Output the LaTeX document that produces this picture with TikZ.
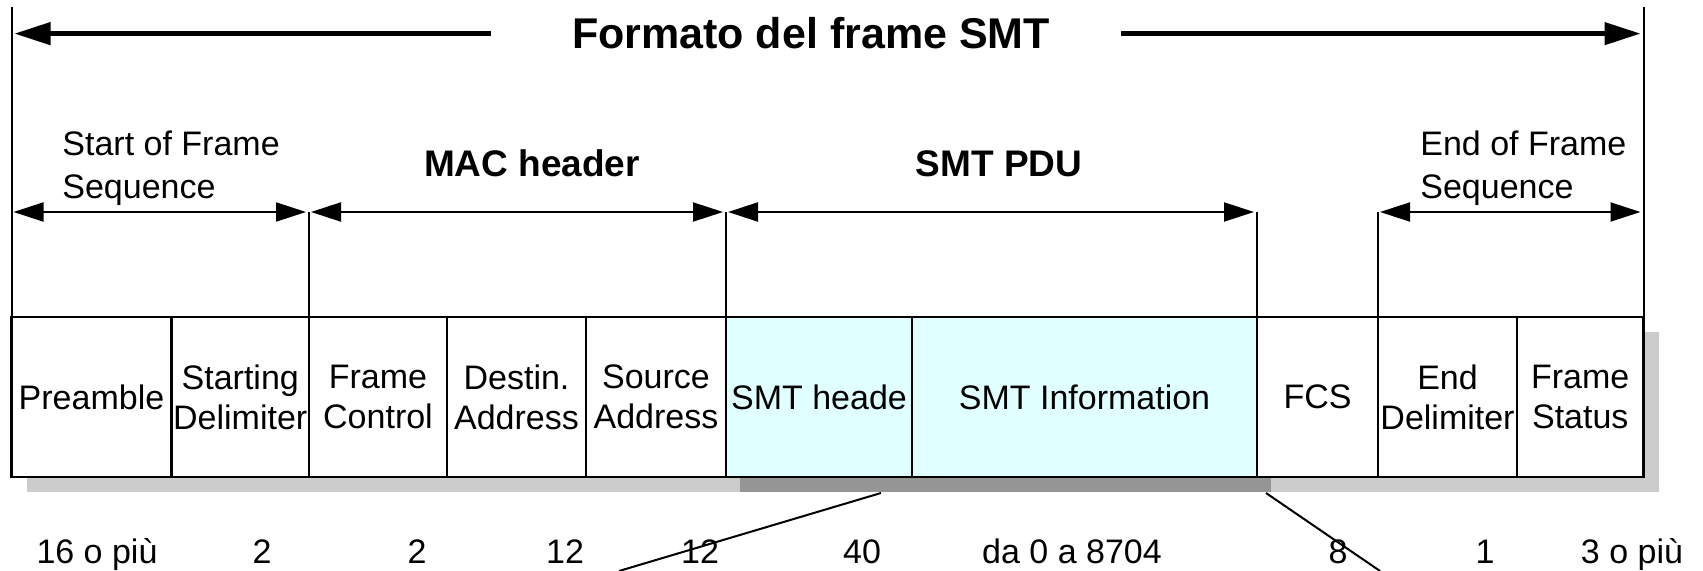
\documentclass[tikz,border=0pt]{standalone}
\usepackage{fontspec}
\setmainfont{Liberation Sans}
\usepackage{tikz}
\usetikzlibrary{arrows.meta}

\definecolor{pducyan}{RGB}{224,255,255}
\definecolor{lightshadow}{RGB}{204,204,204}
\definecolor{darkshadow}{RGB}{149,149,149}

\newcommand{\fieldfont}{\fontsize{17pt}{20pt}\selectfont}
\newcommand{\seqfont}{\fontsize{17pt}{21.5pt}\selectfont}
\newcommand{\partfont}{\fontsize{18.5pt}{22pt}\selectfont\bfseries}
\newcommand{\titlefont}{\fontsize{21.5pt}{26pt}\selectfont\bfseries}

\tikzset{
  field/.style={draw, line width=1.25pt, fill=white, inner sep=0pt, outer sep=0pt,
    minimum height=80pt, font=\fieldfont, align=center, anchor=west},
  pdufield/.style={field, fill=pducyan},
  frameline/.style={line width=1pt},
  dimarrow/.style={line width=1pt,
    {Triangle[length=15pt,width=9.5pt]}-{Triangle[length=15pt,width=9.5pt]},
    shorten <=1pt, shorten >=1.5pt},
  titlearrow/.style={line width=2.25pt, -{Triangle[length=18pt,width=11pt]}, shorten >=1.5pt},
  seqlabel/.style={font=\seqfont, align=left, anchor=west, inner sep=0pt},
  partlabel/.style={font=\partfont, anchor=base, inner sep=0pt},
  titlelabel/.style={font=\titlefont, anchor=base, inner sep=0pt},
  numlabel/.style={font=\fieldfont, anchor=base, inner sep=0pt},
  zoomline/.style={line width=1pt}
}

\begin{document}
\begin{tikzpicture}[x=0.5pt,y=-0.5pt]
        \newcommand{\smtrowmid}{397}
        \newcommand{\smtsepy}{212}
        \newcommand{\smtnumy}{563}
        \useasboundingbox (0,0) rectangle (1703,571);
        % shadows under the frame
        \fill[lightshadow] (26.5,332) rectangle (1658.5,492);
        \fill[darkshadow] (740,332) rectangle (1271,492);
        % fields of the frame
        \node[field, minimum width=80pt] (pre) at (11.5,\smtrowmid) {Preamble};
        \node[field, minimum width=68.75pt] (sd) at (171.5,\smtrowmid) {Starting\\Delimiter};
        \node[field, minimum width=69pt] (fc) at (309,\smtrowmid) {Frame\\Control};
        \node[field, minimum width=69.5pt] (da) at (447,\smtrowmid) {Destin.\\Address};
        \node[field, minimum width=70pt] (sa) at (586,\smtrowmid) {Source\\Address};
        \node[pdufield, minimum width=93pt] (sh) at (726,\smtrowmid) {SMT heade};
        \node[pdufield, minimum width=172.5pt] (si) at (912,\smtrowmid) {SMT Information};
        \node[field, minimum width=60.5pt] (fcs) at (1257,\smtrowmid) {FCS};
        \node[field, minimum width=69.5pt] (ed) at (1378,\smtrowmid) {End\\Delimiter};
        \node[field, minimum width=63.25pt] (fs) at (1517,\smtrowmid) {Frame\\Status};
        % outer edges and separators
        \coordinate (edgeL) at (11.5,7);
        \coordinate (edgeR) at (1643.5,7);
        \coordinate (sepA) at (11.5,\smtsepy);
        \coordinate (sepB) at (309,\smtsepy);
        \coordinate (sepC) at (726,\smtsepy);
        \coordinate (sepD) at (1257,\smtsepy);
        \coordinate (sepE) at (1378,\smtsepy);
        \coordinate (sepF) at (1643.5,\smtsepy);
        \draw[frameline] (edgeL) -- (pre.north west);
        \draw[frameline] (edgeR) -- (fs.north east);
        \draw[frameline] (sepB) -- (fc.north west);
        \draw[frameline] (sepC) -- (sh.north west);
        \draw[frameline] (sepD) -- (fcs.north west);
        \draw[frameline] (sepE) -- (ed.north west);
        % sections
        \draw[dimarrow] (sepA) -- (sepB);
        \draw[dimarrow] (sepB) -- (sepC);
        \draw[dimarrow] (sepC) -- (sepD);
        \draw[dimarrow] (sepE) -- (sepF);
        \node[seqlabel] (sofs) at (62,168) {Start of Frame\\Sequence};
        \node[partlabel] (mach) at (532,177) {MAC header};
        \node[partlabel] (pdu) at (999,177) {SMT PDU};
        \node[seqlabel] (eofs) at (1420,168) {End of Frame\\Sequence};
        % title
        \node[titlelabel] (ttl) at (811,49) {Formato del frame SMT};
        \draw[titlearrow] ([xshift=-40.5pt]ttl.west) -- (edgeL |- ttl.west);
        \draw[titlearrow] ([xshift=35.5pt]ttl.east) -- (edgeR |- ttl.east);
        % lengths
        \node[numlabel] (len1) at (97,\smtnumy) {16 o più};
        \node[numlabel] (len2) at (262,\smtnumy) {2};
        \node[numlabel] (len3) at (417,\smtnumy) {2};
        \node[numlabel] (len4) at (565,\smtnumy) {12};
        \node[numlabel] (len5) at (700,\smtnumy) {12};
        \node[numlabel] (len6) at (862,\smtnumy) {40};
        \node[numlabel] (len7) at (1072,\smtnumy) {da 0 a 8704};
        \node[numlabel] (len8) at (1338,\smtnumy) {8};
        \node[numlabel] (len9) at (1485,\smtnumy) {1};
        \node[numlabel] (len10) at (1632,\smtnumy) {3 o più};
        % zoom lines
        \coordinate (zoomA) at (881,493);
        \coordinate (zoomAend) at (619,571);
        \coordinate (zoomB) at (1266,493);
        \coordinate (zoomBend) at (1380,571);
        \draw[zoomline] (zoomA) -- (zoomAend);
        \draw[zoomline] (zoomB) -- (zoomBend);
    \end{tikzpicture}
\end{document}
